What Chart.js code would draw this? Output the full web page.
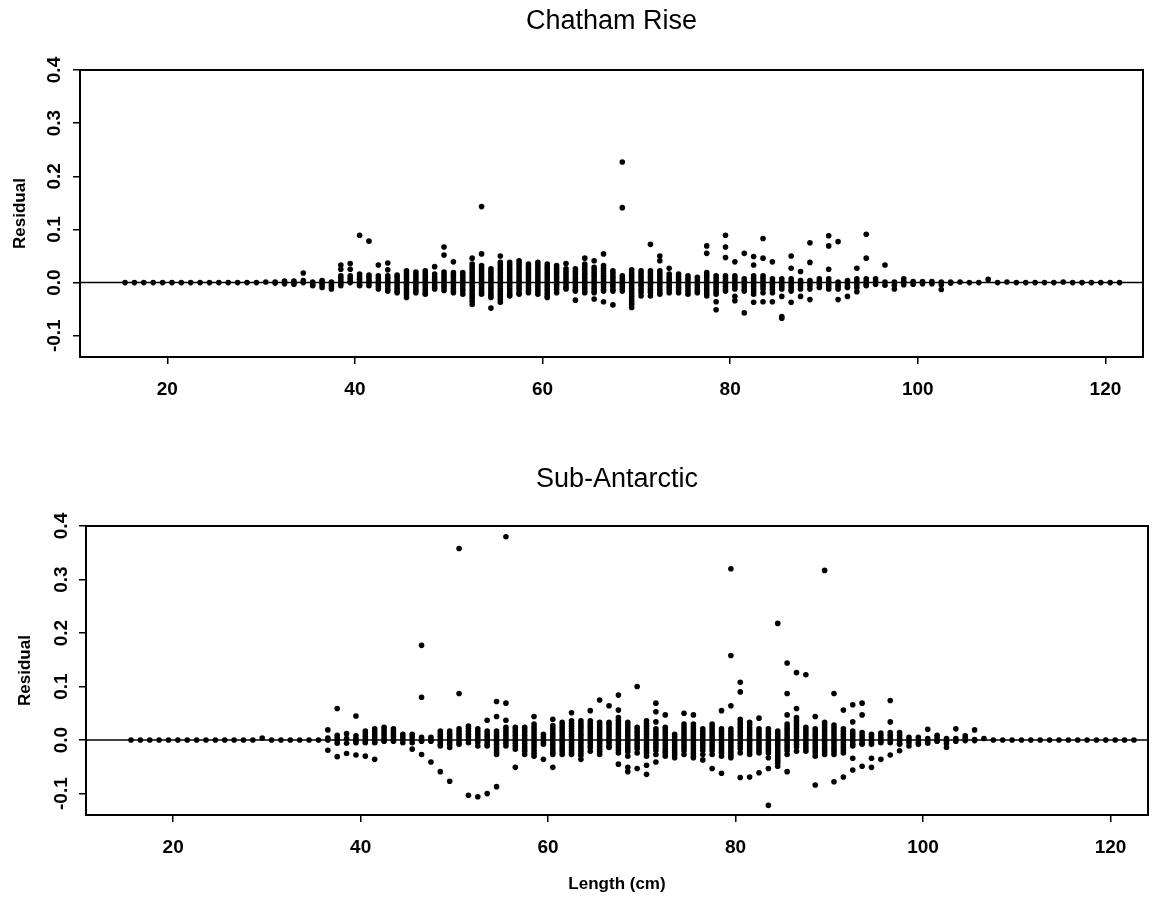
<!DOCTYPE html>
<html>
<head>
<meta charset="utf-8">
<title>Residuals by length</title>
<script src="https://cdn.jsdelivr.net/npm/chart.js@4.4.0/dist/chart.umd.min.js"></script>
<style>
  html, body { margin: 0; padding: 0; background: #fff; }
  #wrap { position: relative; width: 1153px; height: 899px; }
  #chatham { position: absolute; left: 0; top: 0; }
  #subant { position: absolute; left: 0; top: 430px; }
</style>
</head>
<body>
<div id="wrap">
  <canvas id="chatham" width="1153" height="430"></canvas>
  <canvas id="subant" width="1153" height="469"></canvas>
</div>
<script>
// length classes (cm) and residuals for each class, residuals in units of 0.001
const chathamLengths = [15.5,16.5,17.5,18.5,19.5,20.5,21.5,22.5,23.5,24.5,25.5,26.5,27.5,28.5,29.5,30.5,31.5,32.5,33.5,34.5,
  35.5,36.5,37.5,38.5,39.5,40.5,41.5,42.5,43.5,44.5,45.5,46.5,47.5,48.5,49.5,50.5,51.5,52.5,53.5,54.5,
  55.5,56.5,57.5,58.5,59.5,60.5,61.5,62.5,63.5,64.5,65.5,66.5,67.5,68.5,69.5,70.5,71.5,72.5,73.5,74.5,
  75.5,76.5,77.5,78.5,79.5,80.5,81.5,82.5,83.5,84.5,85.5,86.5,87.5,88.5,89.5,90.5,91.5,92.5,93.5,94.5,
  95.5,96.5,97.5,98.5,99.5,100.5,101.5,102.5,103.5,104.5,105.5,106.5,107.5,108.5,109.5,110.5,111.5,112.5,113.5,114.5,
  115.5,116.5,117.5,118.5,119.5,120.5,121.5];
const chathamResid = [
  [0],[0],[0],[0],[0],[0],[0],[0],[0],[0],[0],[0],[0],[0],[0],[1],
  [1,-1],[3,0,-2],[3,0,-3],[18,4,0],[1,-3,-6],[4,0,-4,-9],[1,-4,-8,-12],
  [33,25,13,8,3,-2,-6],[36,25,13,8,3,0],[89,16,11,6,1,-4,-6],[78,14,9,4,-1,-6],
  [33,13,8,3,-2,-7,-12],[37,24,13,8,3,-2,-7,-12,-16],[14,9,4,-1,-6,-11,-16,-19],
  [22,17,12,7,2,-3,-8,-13,-18,-23,-28],[20,15,10,5,0,-5,-10,-15,-19],[22,17,12,7,2,-3,-8,-13,-18,-22],
  [30,16,11,6,1,-4,-9,-12],[67,52,20,15,10,5,0,-5,-10,-15],[39,19,14,9,4,-1,-6,-11,-16,-19],
  [19,14,9,4,-1,-6,-11,-16,-22],[46,35,30,25,20,15,10,5,0,-5,-10,-15,-20,-25,-30,-35,-41],
  [143,54,32,27,22,17,12,7,2,-3,-8,-13,-18,-22],[26,21,16,11,6,1,-4,-9,-14,-19,-24,-28,-48],
  [50,38,33,28,23,18,13,8,3,-2,-7,-12,-17,-22,-27,-32,-37],[38,33,28,23,18,13,8,3,-2,-7,-12,-17,-22,-25],
  [41,36,31,26,21,16,11,6,1,-4,-9,-14,-19,-22],[35,30,25,20,15,10,5,0,-5,-10,-15,-19],
  [38,33,28,23,18,13,8,3,-2,-7,-12,-17,-22],[35,30,25,20,15,10,5,0,-5,-10,-15,-20,-25,-28],
  [32,27,22,17,12,7,2,-3,-8,-13,-19],[36,26,21,16,11,6,1,-4,-9,-12],
  [26,21,16,11,6,1,-4,-9,-14,-16,-33],[46,35,30,25,20,15,10,5,0,-5,-10,-15,-19],
  [41,29,24,19,14,9,4,-1,-6,-11,-16,-19,-31],[54,32,27,22,17,12,7,2,-3,-8,-13,-16,-36],
  [22,17,12,7,2,-3,-8,-13,-16,-42],[227,141,13,8,3,-2,-7,-12,-16],
  [24,19,14,9,4,-1,-6,-11,-16,-21,-26,-31,-36,-41,-47],[22,17,12,7,2,-3,-8,-13,-18,-25],
  [72,22,17,12,7,2,-3,-8,-13,-18,-25],[50,41,22,17,12,7,2,-3,-8,-13,-18,-22],
  [27,16,11,6,1,-4,-9,-14,-19],[16,11,6,1,-4,-9,-14,-19],[13,8,3,-2,-7,-12,-17,-22],
  [10,5,0,-5,-10,-15,-19],[69,55,19,14,9,4,-1,-6,-11,-16,-21,-25],[13,8,3,-2,-7,-12,-17,-22,-36,-51],
  [89,67,47,13,8,3,-2,-7,-12,-16],[39,13,8,3,-2,-7,-12,-26,-34],[55,7,2,-3,-8,-13,-16,-57],
  [49,33,13,8,3,-2,-7,-12,-17,-22,-37],[83,46,13,8,3,-2,-7,-12,-19,-36],[39,7,2,-3,-8,-13,-19,-36],
  [7,2,-3,-8,-12,-26,-64,-67],[50,27,7,2,-3,-8,-13,-16,-37],[21,4,-1,-6,-12,-26],
  [75,38,4,-1,-6,-12,-32],[7,2,-3,-9],[88,69,25,7,2,-3,-8,-12],[77,1,-4,-8,-12,-32],
  [4,-1,-6,-9,-26],[27,7,2,-3,-9,-17],[91,46,7,2,-3,-6],[7,2,-3],[33,1,-5],[1,-5,-12],
  [7,2,-4],[2,-3],[2,-2],[2,-2],[1,-4,-13],[1,-1],[1],[0],[0],[6],[0],[1],[0],[0],
  [0],[0],[0],[1],[0],[0],[0],[0],[0],[0]
];

const subantLengths = [15.5,16.5,17.5,18.5,19.5,20.5,21.5,22.5,23.5,24.5,25.5,26.5,27.5,28.5,29.5,30.5,31.5,32.5,33.5,34.5,
  35.5,36.5,37.5,38.5,39.5,40.5,41.5,42.5,43.5,44.5,45.5,46.5,47.5,48.5,49.5,50.5,51.5,52.5,53.5,54.5,
  55.5,56.5,57.5,58.5,59.5,60.5,61.5,62.5,63.5,64.5,65.5,66.5,67.5,68.5,69.5,70.5,71.5,72.5,73.5,74.5,
  75.5,76.5,77.5,78.5,79.5,80.5,81.5,82.5,83.5,84.5,85.5,86.5,87.5,88.5,89.5,90.5,91.5,92.5,93.5,94.5,
  95.5,96.5,97.5,98.5,99.5,100.5,101.5,102.5,103.5,104.5,105.5,106.5,107.5,108.5,109.5,110.5,111.5,112.5,113.5,114.5,
  115.5,116.5,117.5,118.5,119.5,120.5,121.5,122.5];
const subantResid = [
  [0],[0],[0],[0],[0],[0],[0],[0],[0],[0],[0],[0],[0],[0],[4],[0],[0],[0],[0],[0],[0],
  [19,4,0,-19],[59,9,4,-1,-6,-31],[12,3,-6,-25],[45,8,3,-2,-5,-28],[17,12,7,2,-3,-5,-30],
  [21,16,11,6,1,-4,-5,-36],[24,19,14,9,4,-1,-2],[21,16,11,6,1,-2],[11,6,1,-5],[11,6,1,-5,-17],
  [177,80,5,0,-2,-27],[5,0,-2,-41],[17,12,7,2,-3,-8,-11,-59],[17,12,7,2,-3,-8,-14,-77],
  [358,87,21,16,11,6,1,-4,-8],[26,21,16,11,6,1,-5,-103],[21,16,11,6,1,-4,-11,-106],
  [37,17,12,7,2,-3,-8,-11,-100],[72,44,17,12,7,2,-3,-8,-13,-18,-23,-27,-87],
  [380,69,37,24,19,14,9,4,-1,-6,-11],[24,19,14,9,4,-1,-6,-11,-17,-51],
  [24,19,14,9,4,-1,-6,-11,-16,-21,-27],[44,30,25,20,15,10,5,0,-5,-10,-15,-20,-25,-30],
  [11,6,1,-4,-8,-36],[39,27,22,17,12,7,2,-3,-8,-13,-18,-23,-27,-51],
  [33,28,23,18,13,8,3,-2,-7,-12,-17,-22,-27],[51,36,31,26,21,16,11,6,1,-4,-9,-14,-19,-24,-27],
  [36,31,26,21,16,11,6,1,-4,-9,-14,-19,-24,-29,-36],[55,36,31,26,21,16,11,6,1,-4,-9,-14,-21],
  [75,33,28,23,18,13,8,3,-2,-7,-12,-17,-22,-27],[64,33,28,23,18,13,8,3,-2,-7,-12,-14],
  [84,56,42,37,32,27,22,17,12,7,2,-3,-8,-13,-18,-24,-45],[33,28,23,18,13,8,3,-2,-7,-12,-17,-22,-30,-51,-59],
  [100,24,19,14,9,4,-1,-6,-11,-16,-24,-53],[36,31,26,21,16,11,6,1,-4,-9,-14,-19,-24,-30,-47,-64],
  [69,53,34,21,16,11,6,1,-4,-9,-14,-19,-27,-41],[47,24,19,14,9,4,-1,-6,-11,-16,-21,-25,-30],
  [11,6,1,-4,-9,-14,-19,-24,-28,-33],[50,30,25,20,15,10,5,0,-5,-10,-15,-20,-27],
  [47,30,25,20,15,10,5,0,-5,-10,-15,-20,-25,-30,-33],[21,16,11,6,1,-4,-9,-14,-19,-27,-37],
  [30,25,20,15,10,5,0,-5,-10,-15,-20,-27,-53],[55,21,16,11,6,1,-4,-9,-14,-19,-24,-30,-62],
  [320,158,64,21,16,11,6,1,-4,-9,-14,-19,-24,-29,-33],[108,90,39,34,29,24,19,14,9,4,-1,-6,-11,-16,-24,-70],
  [33,28,23,18,13,8,3,-2,-7,-12,-17,-22,-27,-69],[41,21,16,11,6,1,-4,-9,-14,-19,-24,-61],
  [21,16,11,6,1,-4,-9,-14,-19,-24,-33,-53,-122],[218,17,12,7,2,-3,-8,-13,-18,-23,-28,-33,-38,-43,-49],
  [144,87,47,30,25,20,15,10,5,0,-5,-10,-15,-20,-27,-59],[126,59,42,37,32,27,22,17,12,7,2,-3,-8,-13,-21],
  [122,24,19,14,9,4,-1,-6,-11,-16,-21],[44,21,16,11,6,1,-4,-9,-14,-19,-24,-30,-84],
  [317,33,28,23,18,13,8,3,-2,-7,-12,-17,-22,-27],[87,28,23,18,13,8,3,-2,-7,-12,-17,-22,-27,-78],
  [56,21,16,11,6,1,-4,-9,-14,-19,-24,-69],[66,34,17,12,7,2,-3,-8,-11,-34,-56],
  [69,47,14,9,4,-1,-6,-8,-49],[11,6,1,-4,-8,-34,-51],[13,8,3,-2,-5,-36],[74,34,14,9,4,-1,-5,-28],
  [14,9,4,-1,-6,-8,-20],[5,0,-5,-11],[5,0,-5,-8],[20,3,-2,-6],[9,4,-1,-2],[3,-2,-7,-14],
  [21,3,-2],[8,3,-1],[19,1,-1],[3],
  [0],[0],[0],[0],[0],[0],[0],[0],[0],[0],[0],[0],[0],[0],[0],[0]
];

const xTickValues = [20, 40, 60, 80, 100, 120];
const yTickValues = [-0.1, 0, 0.1, 0.2, 0.3, 0.4];
const xRange = [10.7, 124];
const yRange = [-0.14, 0.4];

const FONT = '"Liberation Sans", Arial, sans-serif';

// frame, panel title and rotated y tick labels (R style)
const panelDecor = {
  id: 'panelDecor',
  afterDraw(chart, args, opts) {
    const { ctx, chartArea: a } = chart;
    const ys = chart.scales.y;
    ctx.save();
    ctx.strokeStyle = '#000';
    ctx.lineWidth = 2;
    ctx.strokeRect(a.left, a.top, a.right - a.left, a.bottom - a.top);

    ctx.fillStyle = '#000';
    ctx.textAlign = 'center';
    ctx.textBaseline = 'middle';
    ctx.font = '27px ' + FONT;
    ctx.fillText(opts.title, (a.left + a.right) / 2, opts.titleY);

    ctx.font = 'bold 19px ' + FONT;
    ys.ticks.forEach(t => {
      const py = ys.getPixelForValue(t.value);
      ctx.save();
      ctx.translate(opts.tickX, py);
      ctx.rotate(-Math.PI / 2);
      ctx.fillText(t.value.toFixed(1), 0, 0);
      ctx.restore();
    });
    ctx.restore();
  }
};

function makeResidualChart(canvasId, title, lengths, resid, geom) {
  const pts = [];
  lengths.forEach((len, i) => {
    (resid[i] || []).forEach(v => pts.push({ x: len, y: v / 1000 }));
  });

  return new Chart(document.getElementById(canvasId), {
    type: 'scatter',
    data: {
      datasets: [
        {
          data: [{ x: xRange[0], y: 0 }, { x: xRange[1], y: 0 }],
          showLine: true, borderColor: '#000', borderWidth: 1.5,
          pointRadius: 0, order: 2
        },
        {
          data: pts,
          backgroundColor: '#000', borderWidth: 0,
          pointRadius: 2.8, pointHoverRadius: 2.8, order: 1
        }
      ]
    },
    options: {
      responsive: false,
      animation: false,
      devicePixelRatio: 1,
      layout: { padding: { top: geom.padTop, right: geom.padRight, left: 0, bottom: 0 } },
      plugins: {
        legend: { display: false },
        tooltip: { enabled: false },
        panelDecor: { title: title, titleY: geom.titleY, tickX: geom.tickX }
      },
      scales: {
        x: {
          type: 'linear', min: xRange[0], max: xRange[1],
          afterBuildTicks: s => { s.ticks = xTickValues.map(v => ({ value: v })); },
          afterFit: s => { s.height = geom.xAxisHeight; },
          ticks: { color: '#000', font: { family: FONT, size: 19, weight: 'bold' }, padding: 14, maxRotation: 0 },
          grid: { drawOnChartArea: false, drawTicks: true, tickLength: 7, color: '#000', lineWidth: 1.5 },
          border: { display: false },
          title: geom.xTitle ? {
            display: true, text: geom.xTitle, color: '#000',
            font: { family: FONT, size: 17, weight: 'bold' }, padding: { top: 0, bottom: geom.xTitlePad }
          } : { display: false }
        },
        y: {
          type: 'linear', min: yRange[0], max: yRange[1],
          afterBuildTicks: s => { s.ticks = yTickValues.map(v => ({ value: v })); },
          afterFit: s => { s.width = geom.yAxisWidth; },
          ticks: { display: false },
          grid: { drawOnChartArea: false, drawTicks: true, tickLength: 7, color: '#000', lineWidth: 1.5 },
          border: { display: false },
          title: {
            display: true, text: 'Residual', color: '#000',
            font: { family: FONT, size: 17, weight: 'bold' }, padding: { top: geom.yTitlePad, bottom: 0 }
          }
        }
      }
    },
    plugins: [panelDecor]
  });
}

makeResidualChart('chatham', 'Chatham Rise', chathamLengths, chathamResid, {
  padTop: 70, padRight: 10, yAxisWidth: 80, xAxisHeight: 73,
  titleY: 22, tickX: 55, yTitlePad: 10
});

makeResidualChart('subant', 'Sub-Antarctic', subantLengths, subantResid, {
  padTop: 96, padRight: 5, yAxisWidth: 86, xAxisHeight: 84,
  titleY: 50, tickX: 62, yTitlePad: 15, xTitle: 'Length (cm)', xTitlePad: 4
});
</script>
</body>
</html>
